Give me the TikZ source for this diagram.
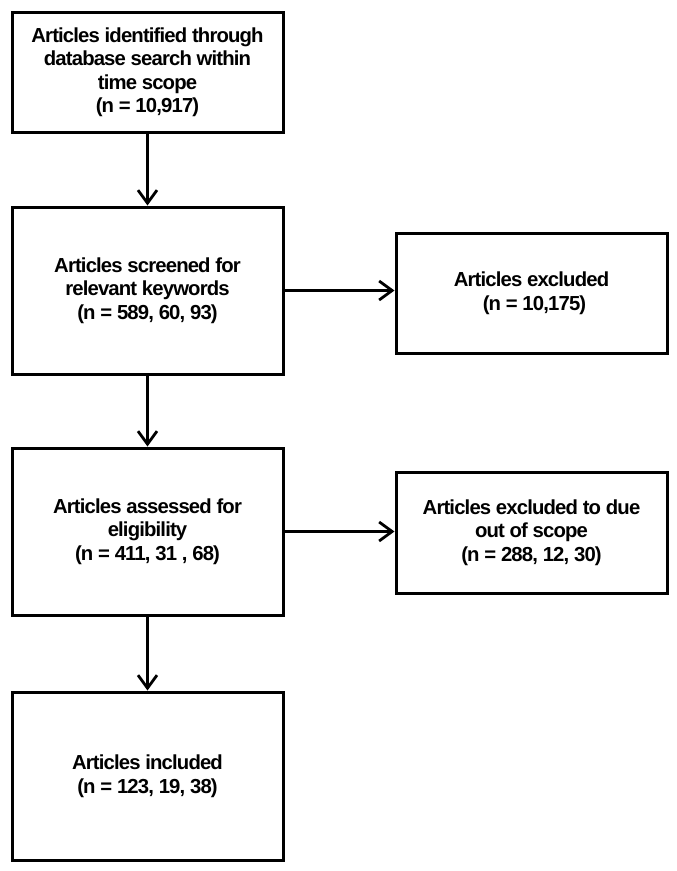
\documentclass[tikz,border=0pt]{standalone}
\usepackage{fontspec}
\setmainfont{Liberation Sans}
\newfontfamily\boxfont[LetterSpace=-4.2]{Liberation Sans Bold}
\usetikzlibrary{arrows.meta}
\tikzset{
  stagebox/.style={draw, line width=3pt, minimum width=271pt, align=center,
    inner sep=0pt, font=\boxfont\fontsize{20.3}{23.5}\selectfont},
  flowarrow/.style={-{Straight Barb[length=13pt,width=19pt,line width=2.8pt]}, line width=2.6pt}
}

\begin{document}
\begin{tikzpicture}[x=1pt, y=-1pt]
			\useasboundingbox (0,0) rectangle (677,871);
			\node[stagebox, minimum height=120pt] (identified) at (147.5,72) {Articles identified through\\database search within\\time scope\\(n = 10,917)};
			\node[stagebox, minimum height=167pt] (screened) at (147.5,290.5) {Articles screened for\\relevant keywords\\(n = 589, 60, 93)};
			\node[stagebox, minimum height=120pt] (excluded) at (531.5,293) {Articles excluded\\\hspace*{6pt}(n = 10,175)};
			\node[stagebox, minimum height=167pt] (assessed) at (147.5,531.5) {Articles assessed for\\eligibility\\(n = 411, 31 , 68)};
			\node[stagebox, minimum height=121pt] (outscope) at (531.5,532.5) {Articles excluded to due\\out of scope\\(n = 288, 12, 30)};
			\node[stagebox, minimum height=168pt] (included) at (147.5,776) {Articles included\\(n = 123, 19, 38)};
			\draw[flowarrow] (identified) -- (screened);
			\draw[flowarrow] (screened) -- (assessed);
			\draw[flowarrow] (assessed) -- (included);
			\draw[flowarrow] (screened.east) -- (screened.east -| excluded.west);
			\draw[flowarrow] (assessed.east) -- (assessed.east -| outscope.west);
		\end{tikzpicture}
\end{document}
